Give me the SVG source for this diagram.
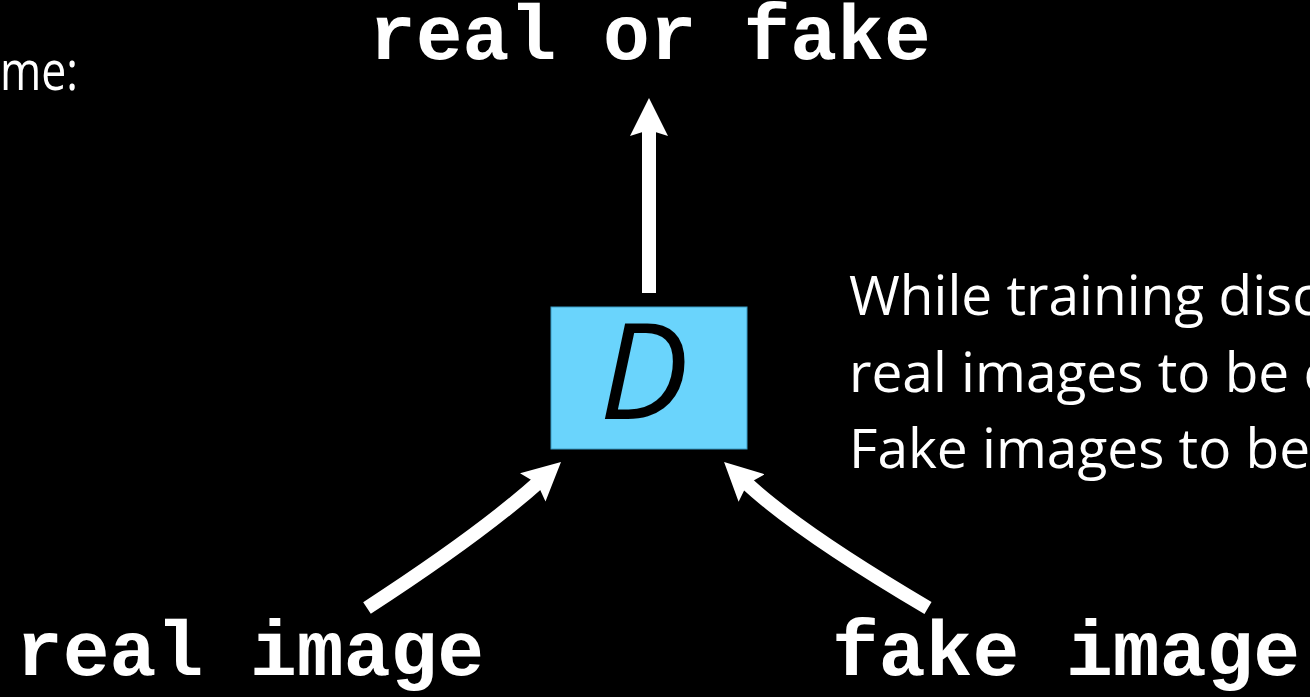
<svg xmlns="http://www.w3.org/2000/svg" width="1310" height="697" viewBox="0 0 1310 697">
  <style>
    .mono { font-family: "Liberation Mono", "Courier New", monospace; font-weight: bold; font-size: 78px; fill: #ffffff; }
    .body { font-family: "Open Sans", "Noto Sans", sans-serif; font-size: 55px; fill: #ffffff; }
    .edge { fill: none; stroke: #ffffff; stroke-width: 14; stroke-linecap: butt; }
  </style>
  <defs>
    <marker id="head" markerUnits="userSpaceOnUse" markerWidth="40" markerHeight="40" viewBox="0 -20 40 40" refX="10" refY="0" orient="auto">
      <path d="M38 0 L0 -19 L6 0 L0 19 Z" fill="#ffffff"/>
    </marker>
  </defs>
  <rect x="0" y="0" width="1310" height="697" fill="#000000"/>

  <!-- heading tail at the left edge -->
  <text class="body" x="0" y="90" font-size="52" textLength="78" lengthAdjust="spacingAndGlyphs">me:</text>

  <!-- output label -->
  <g id="out">
    <text class="mono" x="369" y="59">real or fake</text>
  </g>

  <!-- discriminator -->
  <g id="D">
    <rect x="551" y="307" width="196" height="142" fill="#6AD4FC" stroke="#3A9BC4" stroke-width="1"/>
    <text x="644" y="419" text-anchor="middle" font-family="Open Sans, Noto Sans, sans-serif" font-style="italic" font-size="134" fill="#000000">D</text>
  </g>

  <!-- inputs -->
  <g id="real">
    <text class="mono" x="16" y="675">real image</text>
  </g>
  <g id="fake">
    <text class="mono" x="832" y="675">fake image</text>
  </g>

  <!-- note -->
  <g id="note">
    <text class="body" x="849" y="315">While training disc</text>
    <text class="body" x="849" y="392">real images to be c</text>
    <text class="body" x="849" y="468">Fake images to be</text>
  </g>

  <!-- connectors -->
  <g id="edges">
    <path class="edge" d="M649 293 L649 126" marker-end="url(#head)"/>
    <path class="edge" d="M367 608 Q481.5 533.6 540.2 480.7" marker-end="url(#head)"/>
    <path class="edge" d="M928 608 Q796.5 530.5 744.4 481.2" marker-end="url(#head)"/>
  </g>
</svg>
